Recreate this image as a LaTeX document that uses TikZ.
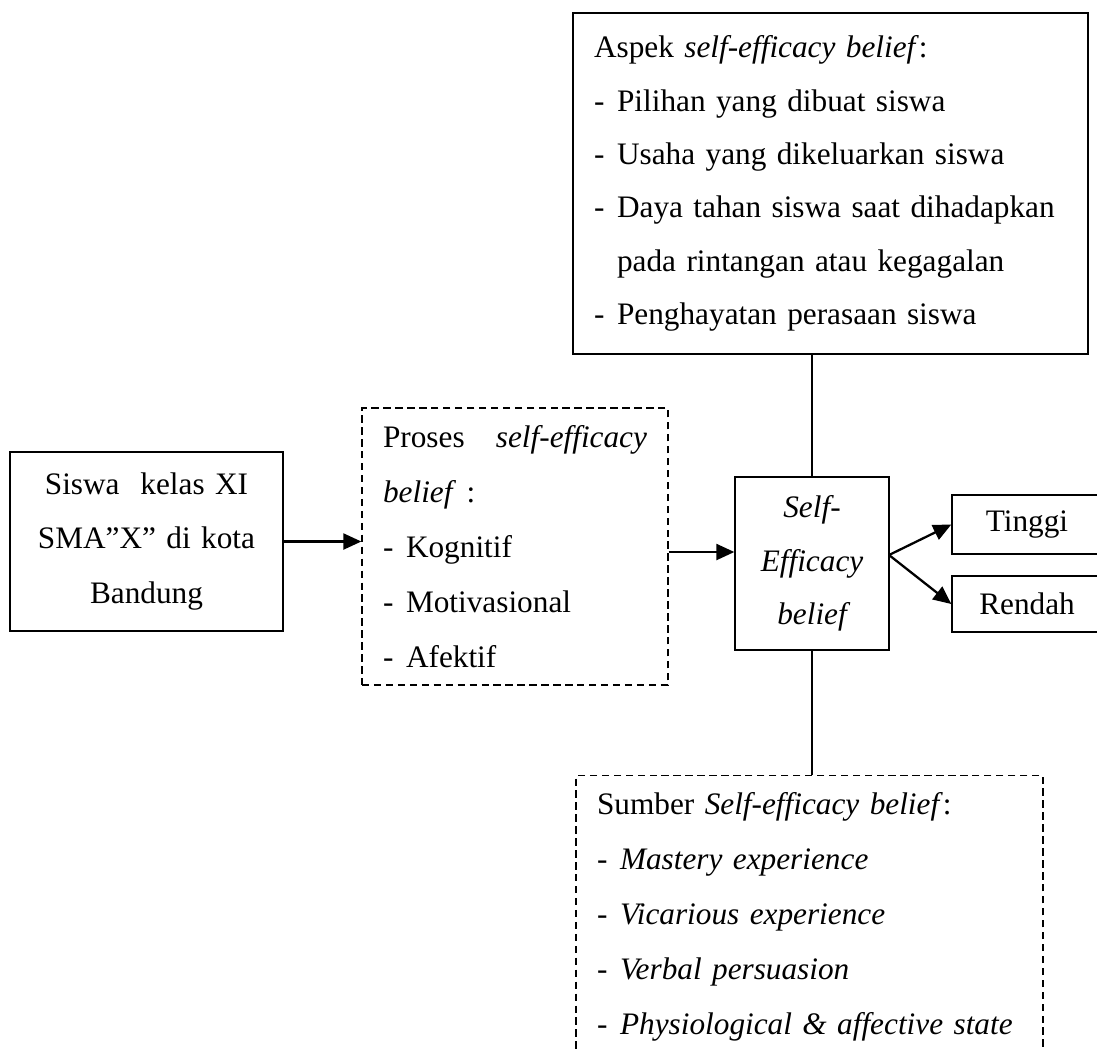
\documentclass[tikz,border=0pt]{standalone}
\usepackage{fontspec}
\setmainfont{Liberation Serif}
\usetikzlibrary{arrows.meta, positioning}

\newcommand{\butir}{\makebox[0.46cm][l]{-}}

\begin{document}
\begin{tikzpicture}[x=0.02cm, y=-0.02cm,
    box/.style={draw, line width=0.8pt},
    dashbox/.style={draw, line width=0.8pt, dash pattern=on 4.2pt off 2.6pt},
    teks/.style={font=\fontsize{17.8}{31.2}\selectfont},
    arr/.style={line width=1.3pt, -{Triangle[length=0.36cm, width=0.32cm]}},
    garis/.style={line width=0.9pt}]
    \useasboundingbox (0,0) rectangle (1097,1049);

    % Subjek penelitian
    \node[box, teks, inner sep=0pt, minimum width=5.46cm, minimum height=3.58cm,
          text width=5.2cm, align=center] (siswa) at (146.5,541.5)
          {Siswa\ \ kelas XI\\SMA”X” di kota\\Bandung};

    % Proses
    \node[dashbox, teks, inner xsep=0.42cm, inner ysep=0pt, text width=5.28cm,
          minimum height=5.54cm, align=left] (proses) at (515,546.5)
          {Proses\hspace{0pt plus 1filll}\textit{self-efficacy}\\
           \textit{belief} :\\
           \butir Kognitif\\
           \butir Motivasional\\
           \butir Afektif};

    % Aspek
    \node[box, teks, font=\fontsize{17.8}{30.4}\selectfont, inner xsep=0.42cm,
          inner ysep=0pt, text width=9.46cm, minimum height=6.82cm,
          align=left] (aspek) at (830.5,183.5)
          {Aspek \textit{self-efficacy belief}:\\
           \butir Pilihan yang dibuat siswa\\
           \butir Usaha yang dikeluarkan siswa\\
           \butir\makebox[8.88cm][s]{Daya tahan siswa saat dihadapkan}\\
           \hspace*{0.46cm}pada rintangan atau kegagalan\\
           \butir Penghayatan perasaan siswa};

    % Self-efficacy belief
    \node[box, teks, font=\fontsize{17.8}{30.4}\selectfont\itshape, inner sep=0pt,
          minimum width=3.08cm, minimum height=3.46cm, text width=3cm,
          align=center] (se) at (812,563.5)
          {Self-\\Efficacy\\belief};

    % Hasil
    \node[box, teks, inner sep=0pt, minimum width=3cm, minimum height=1.18cm]
          (tinggi) at (1027,524.5) {Tinggi};
    \node[box, teks, inner sep=0pt, minimum width=3cm, minimum height=1.12cm]
          (rendah) at (1027,604) {Rendah};

    % Sumber
    \node[dashbox, teks, anchor=north, inner xsep=0.42cm, inner ysep=0.34cm,
          text width=8.5cm, align=left] (sumber) at (809.5,775)
          {Sumber \textit{Self-efficacy belief}:\\
           \butir\textit{Mastery experience}\\
           \butir\textit{Vicarious experience}\\
           \butir\textit{Verbal persuasion}\\
           \butir\textit{Physiological \& affective state}};

    % Penghubung
    \coordinate (tengah) at (700,552);
    \coordinate (cabang) at (889,555);
    \draw[arr] (siswa.east) -- (siswa.east -| proses.west);
    \draw[arr] (tengah -| proses.east) -- (tengah -| se.west);
    \draw[arr] (cabang) -- (tinggi.west);
    \draw[arr] (cabang) -- (rendah.west);
    \draw[garis] (se.north) -- (se.north |- aspek.south);
    \draw[garis] (se.south) -- (se.south |- sumber.north);
\end{tikzpicture}
\end{document}
